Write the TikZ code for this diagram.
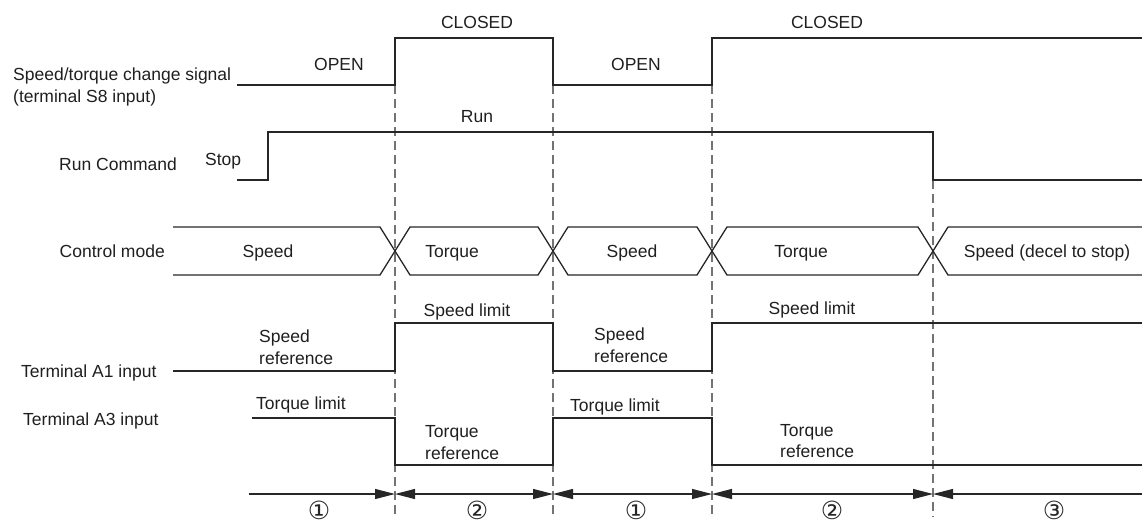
\documentclass[tikz,border=0pt]{standalone}
\usepackage{fontspec}
\setmainfont{Liberation Sans}
\newfontfamily\symfont{DejaVu Sans}
\usetikzlibrary{arrows.meta}
\begin{document}
\begin{tikzpicture}[x=1pt,y=-1pt,
  sig/.style={line width=1.3pt, draw=black!85, line join=miter},
  guide/.style={line width=1.3pt, draw=black!55, dash pattern=on 9pt off 5pt},
  lbl/.style={font=\fontsize{17.5}{21.5}\selectfont, inner sep=0pt, text=black!88},
  lbltwo/.style={lbl, align=left, anchor=north west},
  seg/.style={line width=1.2pt, draw=black!85},
  segR/.style={seg, arrows={-Triangle[length=20pt,width=10pt]}},
  segB/.style={seg, arrows={Triangle[length=20pt,width=10pt]-Triangle[length=20pt,width=10pt]}},
  segL/.style={seg, arrows={Triangle[length=20pt,width=10pt]-}},
  num/.style={font=\symfont\fontsize{25}{28}\selectfont, inner sep=0pt, text=black!85, text depth=0pt, anchor=base}
]
\useasboundingbox (0,0) rectangle (1142,522);

% transition times
\coordinate (t1) at (395,494);
\coordinate (t2) at (553,494);
\coordinate (t3) at (712,494);
\coordinate (t4) at (933,494);
\coordinate (ta) at (249,494);
\coordinate (tb) at (1142,494);

% dashed guides
\draw[guide] (395,85) -- (395,517);
\draw[guide] (553,85) -- (553,517);
\draw[guide] (712,85) -- (712,517);
\draw[guide] (933,180) -- (933,517);

% S8 signal
\draw[sig] (237,85) -- (395,85) -- (395,38) -- (553,38) -- (553,85) -- (712,85) -- (712,38) -- (1142,38);
% Run command
\draw[sig] (237,180) -- (268,180) -- (268,132) -- (933,132) -- (933,180) -- (1142,180);
% Control mode
\draw[sig] (173,227) -- (380,227) -- (410,275) -- (538,275) -- (568,227) -- (697,227) -- (727,275) -- (918,275) -- (948,227) -- (1142,227);
\draw[sig] (173,275) -- (380,275) -- (410,227) -- (538,227) -- (568,275) -- (697,275) -- (727,227) -- (918,227) -- (948,275) -- (1142,275);
% Terminal A1
\draw[sig] (173,371) -- (395,371) -- (395,323) -- (553,323) -- (553,371) -- (712,371) -- (712,323) -- (1142,323);
% Terminal A3
\draw[sig] (252,418) -- (395,418) -- (395,465) -- (553,465) -- (553,418) -- (712,418) -- (712,465) -- (1142,465);

% interval arrows
\draw[segR] (ta) -- (t1);
\draw[segB] (t1) -- (t2);
\draw[segB] (t2) -- (t3);
\draw[segB] (t3) -- (t4);
\draw[segL] (t4) -- (tb);

% row labels
\node[lbltwo] (lS8) at (13,68) {Speed/torque change signal\\(terminal S8 input)};
\node[lbl, anchor=base west] (lRun) at (59,170) {Run Command};
\node[lbl, anchor=base east] (lCM) at (165,257) {Control mode};
\node[lbl, anchor=base west] (lA1) at (21,377.7) {Terminal A1 input};
\node[lbl, anchor=base west] (lA3) at (23,425) {Terminal A3 input};

% S8 states
\node[lbl, anchor=base] (o1) at (339,70.5) {OPEN};
\node[lbl, anchor=base] (c1) at (477,28.3) {CLOSED};
\node[lbl, anchor=base] (o2) at (636,70.5) {OPEN};
\node[lbl, anchor=base] (c2) at (827,28.3) {CLOSED};
% Run states
\node[lbl, anchor=base west] (stop) at (205,165) {Stop};
\node[lbl, anchor=base] (run) at (477,122.7) {Run};
% control modes
\node[lbl, anchor=base] (m1) at (268,257) {Speed};
\node[lbl, anchor=base] (m2) at (452,257) {Torque};
\node[lbl, anchor=base] (m3) at (632,257) {Speed};
\node[lbl, anchor=base] (m4) at (801,257) {Torque};
\node[lbl, anchor=base] (m5) at (1047,257) {Speed (decel to stop)};
% A1
\node[lbl, anchor=base] (sl1) at (467,316) {Speed limit};
\node[lbl, anchor=base] (sl2) at (812,314.3) {Speed limit};
\node[lbltwo] (sr1) at (259,329.7) {Speed\\reference};
\node[lbltwo] (sr2) at (594,328) {Speed\\reference};
% A3
\node[lbl, anchor=base west] (tl1) at (256,409) {Torque limit};
\node[lbl, anchor=base west] (tl2) at (570,411.7) {Torque limit};
\node[lbltwo] (tr1) at (425,425.7) {Torque\\reference};
\node[lbltwo] (tr2) at (780,424) {Torque\\reference};

% interval numbers
\node[num] (n1) at (319,519) {①};
\node[num] (n2) at (477,519) {②};
\node[num] (n3) at (636,519) {①};
\node[num] (n4) at (832,519) {②};
\node[num] (n5) at (1054,519) {③};
\end{tikzpicture}
\end{document}
